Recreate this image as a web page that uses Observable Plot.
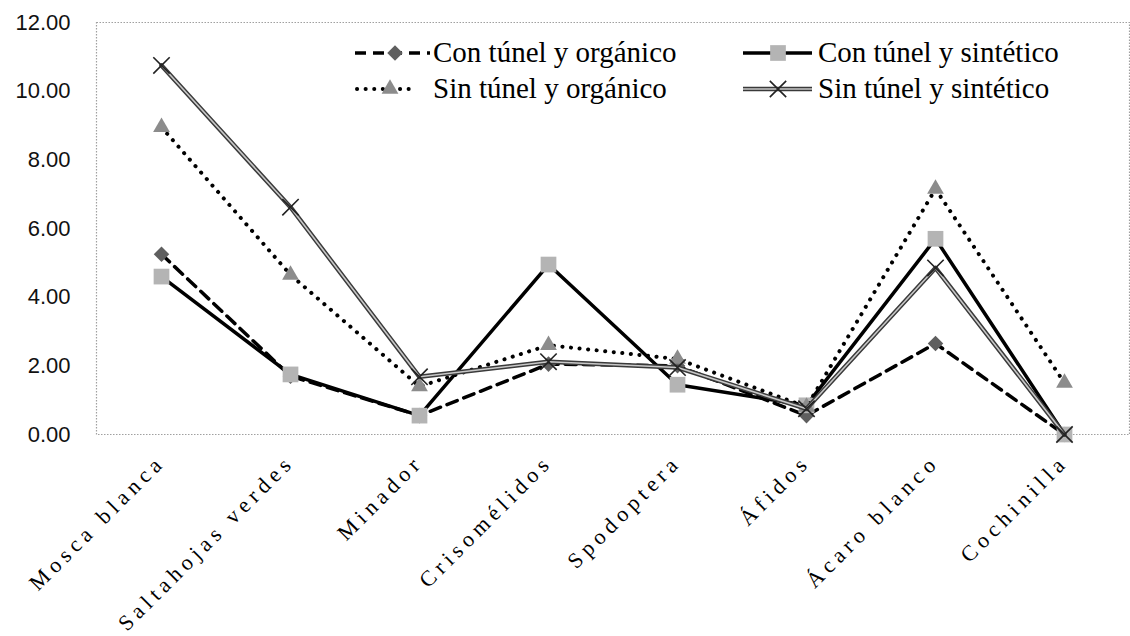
<!DOCTYPE html>
<html>
<head>
<meta charset="utf-8">
<script src="https://cdn.jsdelivr.net/npm/d3@7"></script>
<script src="https://cdn.jsdelivr.net/npm/@observablehq/plot@0.6"></script>
<style>
  html, body { margin: 0; padding: 0; background: #fff; }
  #chart { width: 1130px; height: 636px; }
</style>
</head>
<body>
<div id="chart"></div>
<script>
const categories = ["Mosca blanca", "Saltahojas verdes", "Minador", "Crisomélidos", "Spodoptera", "Áfidos", "Ácaro blanco", "Cochinilla"];
const conTunelOrganico = [5.25, 1.70, 0.55, 2.05, 2.00, 0.55, 2.65, 0.00];
const conTunelSintetico = [4.60, 1.75, 0.55, 4.95, 1.45, 0.85, 5.70, 0.00];
const sinTunelOrganico = [8.95, 4.65, 1.40, 2.60, 2.20, 0.80, 7.15, 1.50];
const sinTunelSintetico = [10.75, 6.62, 1.68, 2.12, 1.95, 0.75, 4.85, 0.00];
const seriesNames = ["Con túnel y orgánico", "Con túnel y sintético", "Sin túnel y orgánico", "Sin túnel y sintético"];
const yTicks = [0, 2, 4, 6, 8, 10, 12];

const seriesValues = [conTunelOrganico, conTunelSintetico, sinTunelOrganico, sinTunelSintetico];
const rows = seriesValues.map(vals => categories.map((c, i) => ({cat: c, v: vals[i]})));

const fmt = d => d.toFixed(2);
const SERIF = "'Liberation Serif', 'Times New Roman', serif";

function seriesMarks(k) {
  const data = rows[k];
  const o = {x: "cat", y: "v"};
  if (k === 0) return [
    Plot.line(data, {...o, stroke: "#000", strokeWidth: 3.5, strokeDasharray: "11,7"}),
    Plot.dot(data, {...o, symbol: "diamond2", r: 7, fill: "#5f5f5f", stroke: "none"})
  ];
  if (k === 1) return [
    Plot.line(data, {...o, stroke: "#000", strokeWidth: 3.5}),
    Plot.dot(data, {...o, symbol: "square2", r: 10, fill: "#b4b4b4", stroke: "none"})
  ];
  if (k === 2) return [
    Plot.line(data, {...o, stroke: "#000", strokeWidth: 4, strokeDasharray: "0.1,8.5", strokeLinecap: "round"}),
    Plot.dot(data, {...o, symbol: "triangle2", r: 8, fill: "#8c8c8c", stroke: "none"})
  ];
  return [
    Plot.line(data, {...o, stroke: "#3a3a3a", strokeWidth: 4.5}),
    Plot.line(data, {...o, stroke: "#c8c8c8", strokeWidth: 1.6}),
    Plot.dot(data, {...o, symbol: "times", r: 7.5, stroke: "#222", strokeWidth: 1.6})
  ];
}

const chart = Plot.plot({
  width: 1130,
  height: 636,
  marginLeft: 96,
  marginRight: 1,
  marginTop: 22,
  marginBottom: 202,
  style: {background: "#fff", overflow: "visible"},
  x: {type: "point", domain: categories, padding: 0.5},
  y: {domain: [0, 12]},
  marks: [
    Plot.frame({stroke: "#a0a0a0", strokeDasharray: "1.5,1.5", strokeWidth: 1.2}),
    Plot.axisY({ticks: yTicks, tickFormat: fmt, tickSize: 0, tickPadding: 26, fontSize: 22, fontFamily: "'Liberation Sans', Arial, sans-serif", fill: "#111", label: null}),
    Plot.axisX({tickSize: 0, tickPadding: 24, tickRotate: -45, fontSize: 22, fontFamily: SERIF, fill: "#000", label: null, dx: 0}),
    ...seriesMarks(0),
    ...seriesMarks(1),
    ...seriesMarks(2),
    ...seriesMarks(3)
  ]
});

document.getElementById("chart").appendChild(chart);

const svg = d3.select(chart);
svg.selectAll('[aria-label="x-axis tick label"] text')
  .style("letter-spacing", "5px")
  .style("font-family", SERIF);

// Legend (inside plot area)
const lg = svg.append("g")
  .style("font-family", SERIF)
  .style("font-size", "29px")
  .attr("text-anchor", "start")
  .attr("fill", "#000");
const legendItems = [
  {name: seriesNames[0], x0: 355, x1: 430, mx: 395, y: 53, tx: 433, k: 0},
  {name: seriesNames[1], x0: 743, x1: 812, mx: 778, y: 53, tx: 818, k: 1},
  {name: seriesNames[2], x0: 357, x1: 417, mx: 390, y: 89, tx: 433, k: 2},
  {name: seriesNames[3], x0: 743, x1: 812, mx: 778, y: 89, tx: 818, k: 3}
];
const sym = (type, r) => d3.symbol(type, Math.PI * r * r)();
legendItems.forEach(it => {
  const cx = it.mx;
  if (it.k === 0) {
    lg.append("line").attr("x1", it.x0).attr("x2", it.x1).attr("y1", it.y).attr("y2", it.y).attr("stroke", "#000").attr("stroke-width", 3.5).attr("stroke-dasharray", "11,7");
    lg.append("path").attr("d", sym(d3.symbolDiamond2, 7)).attr("transform", `translate(${cx},${it.y})`).attr("fill", "#5f5f5f");
  } else if (it.k === 1) {
    lg.append("line").attr("x1", it.x0).attr("x2", it.x1).attr("y1", it.y).attr("y2", it.y).attr("stroke", "#000").attr("stroke-width", 3.5);
    lg.append("path").attr("d", sym(d3.symbolSquare2, 10)).attr("transform", `translate(${cx},${it.y})`).attr("fill", "#b4b4b4");
  } else if (it.k === 2) {
    lg.append("line").attr("x1", it.x0).attr("x2", it.x1).attr("y1", it.y).attr("y2", it.y).attr("stroke", "#000").attr("stroke-width", 4).attr("stroke-dasharray", "0.1,8.5").attr("stroke-linecap", "round");
    lg.append("path").attr("d", sym(d3.symbolTriangle2, 8)).attr("transform", `translate(${cx},${it.y})`).attr("fill", "#8c8c8c");
  } else {
    lg.append("line").attr("x1", it.x0).attr("x2", it.x1).attr("y1", it.y).attr("y2", it.y).attr("stroke", "#3a3a3a").attr("stroke-width", 4.5);
    lg.append("line").attr("x1", it.x0).attr("x2", it.x1).attr("y1", it.y).attr("y2", it.y).attr("stroke", "#c8c8c8").attr("stroke-width", 1.6);
    lg.append("path").attr("d", sym(d3.symbolTimes, 7.5)).attr("transform", `translate(${cx},${it.y})`).attr("fill", "none").attr("stroke", "#222").attr("stroke-width", 1.6);
  }
  lg.append("text").attr("x", it.tx).attr("y", it.y).attr("dy", "0.32em").text(it.name);
});
</script>
</body>
</html>
